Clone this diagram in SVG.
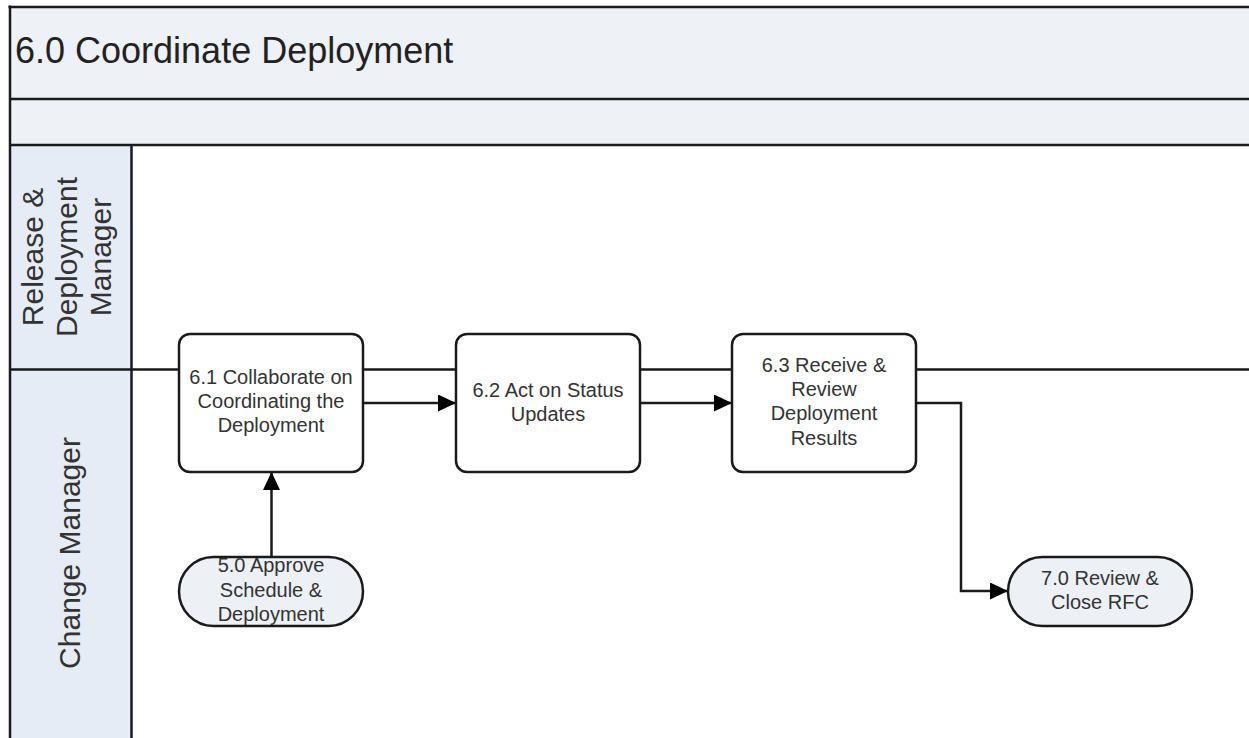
<svg xmlns="http://www.w3.org/2000/svg" width="1249" height="738" viewBox="0 0 1249 738">
<defs>
<style>
.ln{stroke:#1a1a1a;fill:none;stroke-width:2.5}
.box{fill:#fff;stroke:#1a1a1a;stroke-width:2.5}
.term{fill:#edf0f5;stroke:#1a1a1a;stroke-width:2.5}
.t{font-family:"Liberation Sans",Arial,sans-serif;font-size:20px;fill:#333;text-anchor:middle}
.lane{font-family:"Liberation Sans",Arial,sans-serif;font-size:30px;fill:#333;text-anchor:middle}
.title{font-family:"Liberation Sans",Arial,sans-serif;font-size:36px;fill:#222}
</style>
<marker id="arr" markerWidth="18" markerHeight="17" refX="18" refY="8.5" orient="auto" markerUnits="userSpaceOnUse">
<path d="M0,0 L18,8.5 L0,17 Z" fill="#000"/>
</marker>
</defs>
<rect width="1249" height="738" fill="#fff"/>
<g id="pool">
<rect x="10" y="7" width="1245" height="92" fill="#eef1f6"/>
<rect x="10" y="99" width="1245" height="46" fill="#eef1f6"/>
<rect x="10" y="145" width="121.5" height="600" fill="#e6ecf6"/>
<line class="ln" x1="8.5" y1="7" x2="1255" y2="7" stroke-width="3"/>
<line class="ln" x1="10" y1="99" x2="1255" y2="99"/>
<line class="ln" x1="10" y1="145" x2="1255" y2="145" stroke-width="3"/>
<line class="ln" x1="10" y1="5.5" x2="10" y2="745" stroke-width="3"/>
<line class="ln" x1="131.5" y1="145" x2="131.5" y2="745" stroke-width="2"/>
<line class="ln" x1="10" y1="369.5" x2="1255" y2="369.5"/>
<text class="title" x="15" y="63">6.0 Coordinate Deployment</text>
</g>
<g id="lane-release" transform="translate(0,257) rotate(-90)">
<text class="lane" x="0" y="43">Release &amp;</text>
<text class="lane" x="0" y="77">Deployment</text>
<text class="lane" x="0" y="111">Manager</text>
</g>
<g id="lane-change" transform="translate(0,553) rotate(-90)">
<text class="lane" x="0" y="80">Change Manager</text>
</g>
<g id="connectors">
<line class="ln" x1="363" y1="403" x2="456" y2="403" marker-end="url(#arr)"/>
<line class="ln" x1="640" y1="403" x2="732" y2="403" marker-end="url(#arr)"/>
<polyline class="ln" points="916,403 961,403 961,591 1008,591" marker-end="url(#arr)"/>
<line class="ln" x1="271.5" y1="557" x2="271.5" y2="472" marker-end="url(#arr)"/>
</g>
<g id="n61">
<rect class="box" x="179" y="334" width="184" height="138" rx="11"/>
<text class="t" x="271" y="384">6.1 Collaborate on</text>
<text class="t" x="271" y="408">Coordinating the</text>
<text class="t" x="271" y="432">Deployment</text>
</g>
<g id="n62">
<rect class="box" x="456" y="334" width="184" height="138" rx="11"/>
<text class="t" x="548" y="397">6.2 Act on Status</text>
<text class="t" x="548" y="421">Updates</text>
</g>
<g id="n63">
<rect class="box" x="732" y="334" width="184" height="138" rx="11"/>
<text class="t" x="824" y="372">6.3 Receive &amp;</text>
<text class="t" x="824" y="396">Review</text>
<text class="t" x="824" y="420">Deployment</text>
<text class="t" x="824" y="445">Results</text>
</g>
<g id="n50">
<rect class="term" x="179" y="557" width="184" height="69" rx="34.5"/>
<text class="t" x="271" y="572">5.0 Approve</text>
<text class="t" x="271" y="597">Schedule &amp;</text>
<text class="t" x="271" y="621">Deployment</text>
</g>
<g id="n70">
<rect class="term" x="1008" y="557" width="184" height="69" rx="34.5"/>
<text class="t" x="1100" y="585">7.0 Review &amp;</text>
<text class="t" x="1100" y="609">Close RFC</text>
</g>
</svg>
